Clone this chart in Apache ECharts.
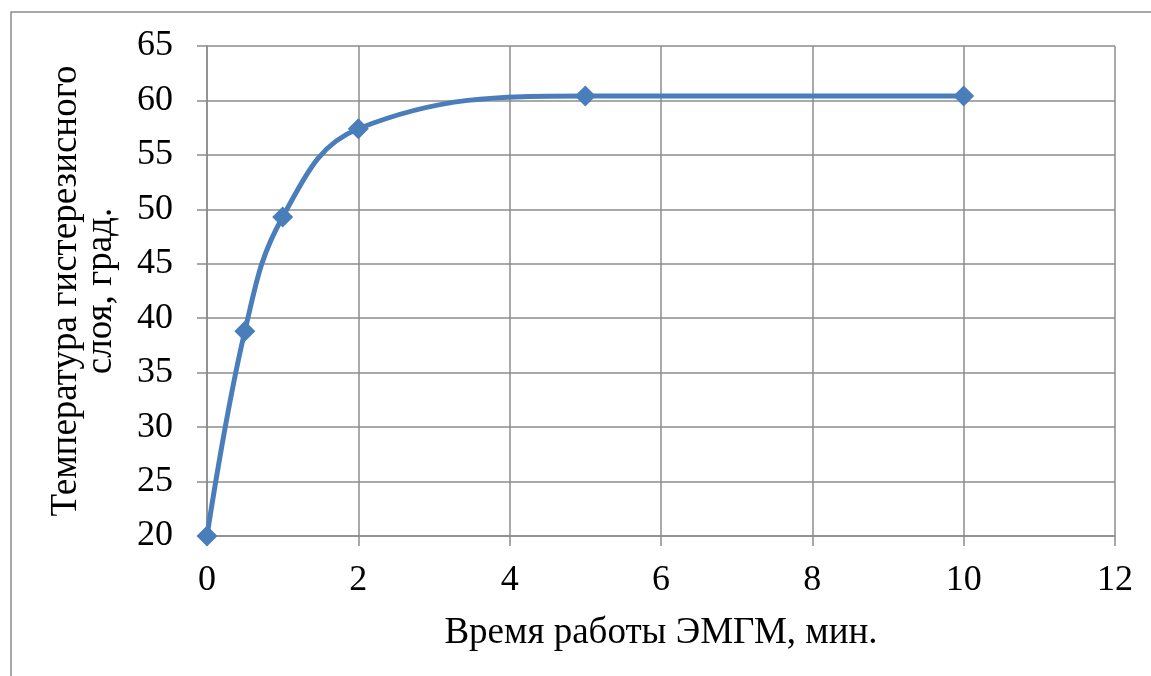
<!DOCTYPE html>
<html><head><meta charset="utf-8">
<script src="https://cdn.jsdelivr.net/npm/echarts@6/dist/echarts.min.js"></script>
<style>html,body{margin:0;padding:0;background:#fff}#c{width:1151px;height:676px}</style>
</head><body><div id="c"></div>
<script>
const timeMin = [0, 0.5, 1, 2, 5, 10];
const tempDeg = [20, 38.8, 49.3, 57.4, 60.4, 60.4];
const xTitle = 'Время работы ЭМГМ, мин.';
const yTitle = 'Температура гистерезисного\nслоя, град.';
const FONT = '"Liberation Serif", "Times New Roman", serif';
const chart = echarts.init(document.getElementById('c'), null, {renderer: 'canvas'});
chart.setOption({
  animation: false,
  backgroundColor: '#fff',
  grid: {left: 207, top: 46, right: 36, bottom: 140, containLabel: false},
  graphic: [
    {type: 'rect', shape: {x: 11, y: 12, width: 1200, height: 700}, style: {fill: 'none', stroke: '#8c8c8c', lineWidth: 1.5}, z: -1},
    {type: 'text', x: 84, y: 291, rotation: Math.PI / 2,
     style: {text: yTitle, fontSize: 37, fontFamily: FONT, fill: '#000', align: 'center', verticalAlign: 'middle', lineHeight: 35}},
    {type: 'text', x: 661, y: 633,
     style: {text: xTitle, fontSize: 37, fontFamily: FONT, fill: '#000', align: 'center', verticalAlign: 'middle'}}
  ],
  xAxis: {
    type: 'value', min: 0, max: 12, interval: 2,
    axisLine: {show: true, lineStyle: {color: '#8c8c8c', width: 1.5}},
    axisTick: {show: true, length: 10, lineStyle: {color: '#8c8c8c', width: 1.5}},
    splitLine: {show: true, lineStyle: {color: '#8c8c8c', width: 1.5}},
    axisLabel: {color: '#000', fontSize: 36, fontFamily: FONT, margin: 27}
  },
  yAxis: {
    type: 'value', min: 20, max: 65, interval: 5,
    axisLine: {show: true, lineStyle: {color: '#8c8c8c', width: 1.5}},
    axisTick: {show: true, length: 10, lineStyle: {color: '#8c8c8c', width: 1.5}},
    splitLine: {show: true, lineStyle: {color: '#8c8c8c', width: 1.5}},
    axisLabel: {color: '#000', fontSize: 36, fontFamily: FONT, margin: 34}
  },
  series: [{
    type: 'line',
    data: timeMin.map((t, i) => [t, tempDeg[i]]),
    smooth: 0.4,
    symbol: 'diamond', symbolSize: 21,
    lineStyle: {color: '#4a7ebb', width: 5},
    itemStyle: {color: '#4a7ebb'}
  }]
});
</script></body></html>
